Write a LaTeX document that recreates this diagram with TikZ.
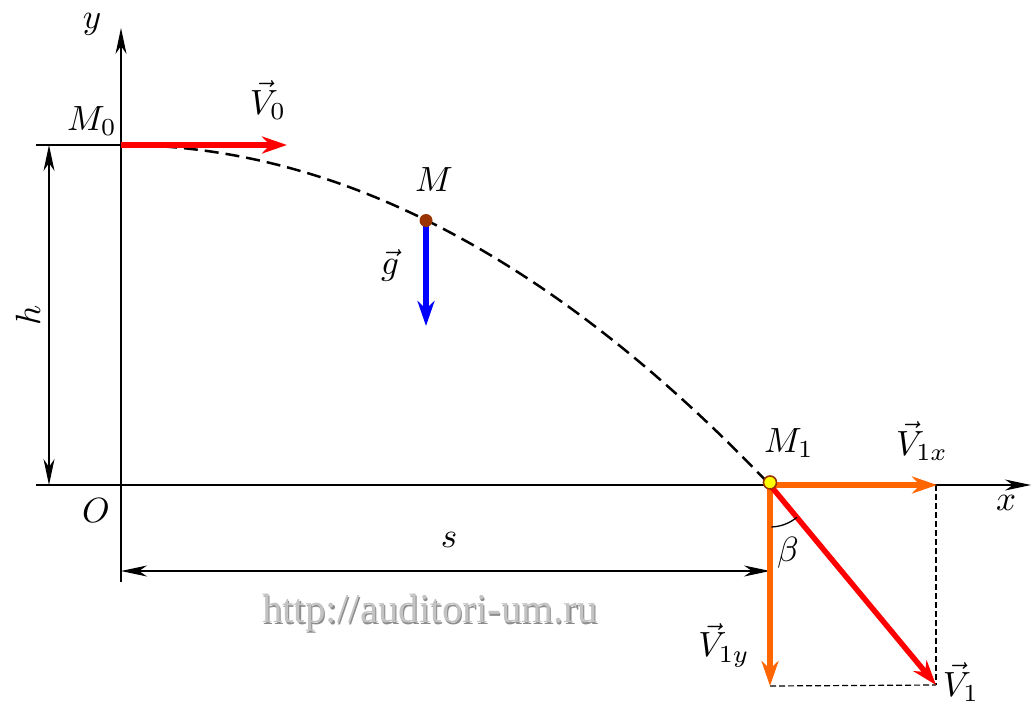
\documentclass[tikz,border=0pt]{standalone}
\usepackage{fontspec}
\newfontfamily\wmfont{Liberation Serif}
\usetikzlibrary{arrows.meta,calc}
\definecolor{vred}{RGB}{255,0,0}
\definecolor{vorange}{RGB}{255,102,0}
\definecolor{vblue}{RGB}{0,0,255}
\definecolor{dotbrown}{RGB}{153,51,0}
\definecolor{dotyellow}{RGB}{255,255,0}
\definecolor{wmgray}{RGB}{195,195,195}
\definecolor{wmdark}{RGB}{140,140,140}
\begin{document}
\begin{tikzpicture}[x=1pt,y=-1pt,
  lbl/.style={scale=3.5, inner sep=0pt},
  axisline/.style={line width=1.4pt, -{Stealth[length=26pt,width=11pt,inset=8pt]}},
  dimline/.style={line width=1.2pt, {Stealth[length=26pt,width=11pt,inset=8pt]}-{Stealth[length=26pt,width=11pt,inset=8pt]}},
  thinline/.style={line width=1.4pt},
  vecarrow/.style={line width=5.5pt, -{Stealth[length=25pt,width=17pt,inset=8pt]}},
  helpline/.style={line width=1.2pt, dash pattern=on 6pt off 3pt},
  traj/.style={line width=2.5pt, dash pattern=on 14pt off 7pt}
]
\useasboundingbox (0,0) rectangle (1033,704);

% coordinates
\coordinate (ybot) at (121,582);
\coordinate (ytop) at (121,28);
\coordinate (xleft) at (36,485);
\coordinate (xright) at (1031,485);
\coordinate (m0left) at (36,145);
\coordinate (M0) at (121,145);
\coordinate (V0tip) at (287,145);
\coordinate (htop) at (49,145);
\coordinate (hbot) at (49,485);
\coordinate (sleft) at (121,571);
\coordinate (sright) at (770,571);
\coordinate (M) at (426,220.5);
\coordinate (gtop) at (426,226);
\coordinate (gtip) at (426,326);
\coordinate (M1) at (770,485);
\coordinate (V1xtip) at (937,485);
\coordinate (V1ytip) at (770,686);
\coordinate (V1tip) at (936,685);
\coordinate (cornerR) at (936,485);
\coordinate (cornerB) at (770,686);

% watermark
\node[font=\wmfont, scale=4.1, text=wmdark, inner sep=0pt] (wmshadow) at (431.2,614.2) {http://auditori-um.ru};
\node[font=\wmfont, scale=4.1, text=wmgray, inner sep=0pt] (wm) at (430,613) {http://auditori-um.ru};

% axes
\draw[axisline] (ybot) -- (ytop);
\draw[axisline] (xleft) -- (xright);
\draw[thinline] (m0left) -- (M0);

% dimensions
\draw[dimline] (htop) -- (hbot);
\draw[dimline] (sleft) -- (sright);

% helper dashed lines
\draw[helpline] (cornerR) -- (V1tip);
\draw[helpline] (cornerB) -- (V1tip);

% trajectory
\draw[traj] plot[domain=121:770, samples=80] (\x, {145+340*((\x-121)/649)^2});

% vectors
\draw[vecarrow, vred] (M0) -- (V0tip);
\draw[vecarrow, vblue] (gtop) -- (gtip);
\draw[vecarrow, vorange] (M1) -- (V1xtip);
\draw[vecarrow, vorange] (M1) -- (V1ytip);
\draw[vecarrow, vred] (M1) -- (V1tip);

% angle beta
\draw[line width=1.3pt] ($(M1)+(50.2:42)$) arc[start angle=50.2, end angle=88, radius=42];

% points
\fill[dotbrown] (M) circle[radius=6.5];
\draw[dotbrown, line width=1.6pt, fill=dotyellow] (770,482.5) circle[radius=6.5];

% labels
\node[lbl] (ylab) at (92,24) {$y$};
\node[lbl] (xlab) at (1006,503) {$x$};
\node[lbl] (Olab) at (96,511) {$O$};
\node[lbl] (M0lab) at (92,121) {$M_0$};
\node[lbl] (V0lab) at (268,100) {$\vec{V}_0$};
\node[lbl] (Mlab) at (434,180) {$M$};
\node[lbl] (glab) at (390,265) {$\vec{g}$};
\node[lbl] (M1lab) at (789,443) {$M_1$};
\node[lbl] (V1xlab) at (922,441) {$\vec{V}_{1x}$};
\node[lbl] (betalab) at (788,553) {$\beta$};
\node[lbl] (V1ylab) at (724,645) {$\vec{V}_{1y}$};
\node[lbl] (V1lab) at (961,682) {$\vec{V}_1$};
\node[lbl, rotate=90] (hlab) at (28,315) {$h$};
\node[lbl] (slab) at (449,540) {$s$};
\end{tikzpicture}
\end{document}
